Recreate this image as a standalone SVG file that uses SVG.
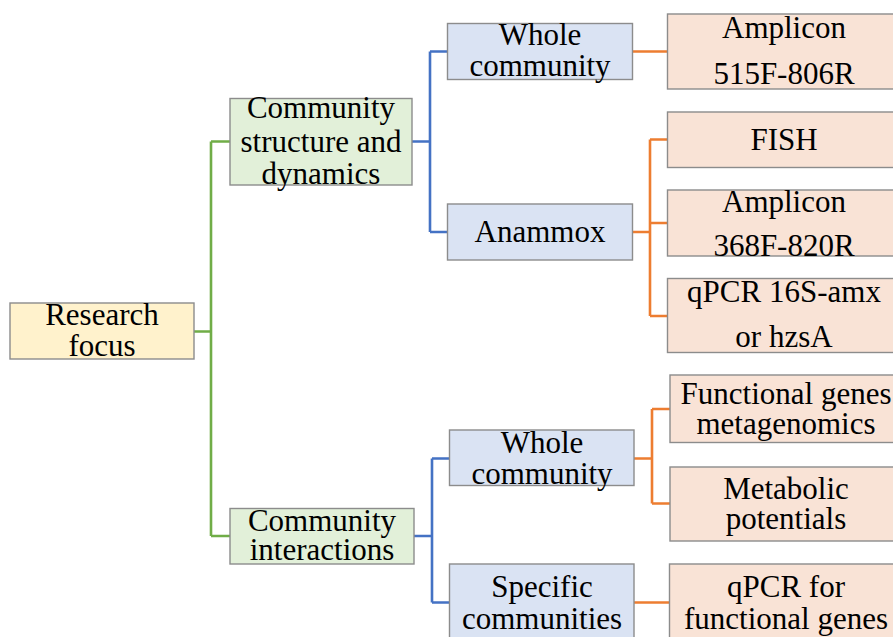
<svg xmlns="http://www.w3.org/2000/svg" width="893" height="637" viewBox="0 0 893 637">
  <style>
    .box { stroke: #8c8c8c; stroke-width: 1.4; }
    .root { fill: #FFF2CC; }
    .l1 { fill: #E2F0D9; }
    .l2 { fill: #DAE3F3; }
    .l3 { fill: #F9E3D6; }
    text { font-family: "Liberation Serif", "Times New Roman", serif; font-size: 31px; fill: #000; text-anchor: middle; }
    .c { fill: none; stroke-width: 2.6; }
    .green { stroke: #70AD47; }
    .blue { stroke: #4472C4; }
    .orange { stroke: #ED7D31; }
  </style>

  <g id="connectors">
    <!-- root to first level -->
    <path class="c green" d="M194 331.5 H211 M211 141.5 V536 M211 141.5 H230 M211 536 H230"/>
    <!-- community structure branch -->
    <path class="c blue" d="M412 141.5 H430 M430 51.5 V232 M430 51.5 H447 M430 232 H447"/>
    <!-- community interactions branch -->
    <path class="c blue" d="M414 536 H432 M432 458.5 V602.5 M432 458.5 H450 M432 602.5 H450"/>
    <!-- methods -->
    <path class="c orange" d="M632 51.5 H668"/>
    <path class="c orange" d="M632 232 H650 M650 139.5 V316 M650 139.5 H668 M650 223 H668 M650 316 H668"/>
    <path class="c orange" d="M634 458.5 H652 M652 409 V503.5 M652 409 H670 M652 503.5 H670"/>
    <path class="c orange" d="M634 602.5 H670"/>
  </g>

  <g id="research-focus">
    <rect class="box root" x="10" y="303" width="184" height="56"/>
    <text x="102" y="325">Research</text>
    <text x="102" y="356">focus</text>
  </g>

  <g id="community-structure">
    <rect class="box l1" x="230" y="98.5" width="182" height="86.5"/>
    <text x="321" y="118">Community</text>
    <text x="321" y="151.5">structure and</text>
    <text x="321" y="184">dynamics</text>
  </g>

  <g id="community-interactions">
    <rect class="box l1" x="230" y="508.5" width="184" height="55.5"/>
    <text x="322" y="530.5">Community</text>
    <text x="322" y="560">interactions</text>
  </g>

  <g id="whole-community-1">
    <rect class="box l2" x="447.5" y="23.5" width="185" height="56"/>
    <text x="540" y="45">Whole</text>
    <text x="540" y="75.5">community</text>
  </g>

  <g id="anammox">
    <rect class="box l2" x="447.5" y="204" width="185" height="56"/>
    <text x="540" y="241.5">Anammox</text>
  </g>

  <g id="whole-community-2">
    <rect class="box l2" x="449.5" y="430" width="184.5" height="55.5"/>
    <text x="542" y="452.5">Whole</text>
    <text x="542" y="484">community</text>
  </g>

  <g id="specific-communities">
    <rect class="box l2" x="449.5" y="564" width="184.5" height="80"/>
    <text x="542" y="596.5">Specific</text>
    <text x="542" y="629">communities</text>
  </g>

  <g id="amplicon-515f">
    <rect class="box l3" x="667.5" y="14" width="240" height="75"/>
    <text x="784" y="37.5">Amplicon</text>
    <text x="784" y="83.5">515F-806R</text>
  </g>

  <g id="fish">
    <rect class="box l3" x="667.5" y="112" width="240" height="55.5"/>
    <text x="784" y="149.5">FISH</text>
  </g>

  <g id="amplicon-368f">
    <rect class="box l3" x="667.5" y="190" width="240" height="66"/>
    <text x="784" y="211.5">Amplicon</text>
    <text x="784" y="256">368F-820R</text>
  </g>

  <g id="qpcr-16s">
    <rect class="box l3" x="667.5" y="278.5" width="240" height="74"/>
    <text x="784" y="301.5">qPCR 16S-amx</text>
    <text x="784" y="346.5">or hzsA</text>
  </g>

  <g id="functional-genes">
    <rect class="box l3" x="670" y="375" width="240" height="67.5"/>
    <text x="786" y="403.5">Functional genes</text>
    <text x="786" y="433.5">metagenomics</text>
  </g>

  <g id="metabolic-potentials">
    <rect class="box l3" x="670" y="467" width="240" height="74"/>
    <text x="786" y="498.5">Metabolic</text>
    <text x="786" y="528.5">potentials</text>
  </g>

  <g id="qpcr-functional">
    <rect class="box l3" x="669.5" y="564" width="240" height="80"/>
    <text x="786" y="596.5">qPCR for</text>
    <text x="786" y="629">functional genes</text>
  </g>
</svg>
